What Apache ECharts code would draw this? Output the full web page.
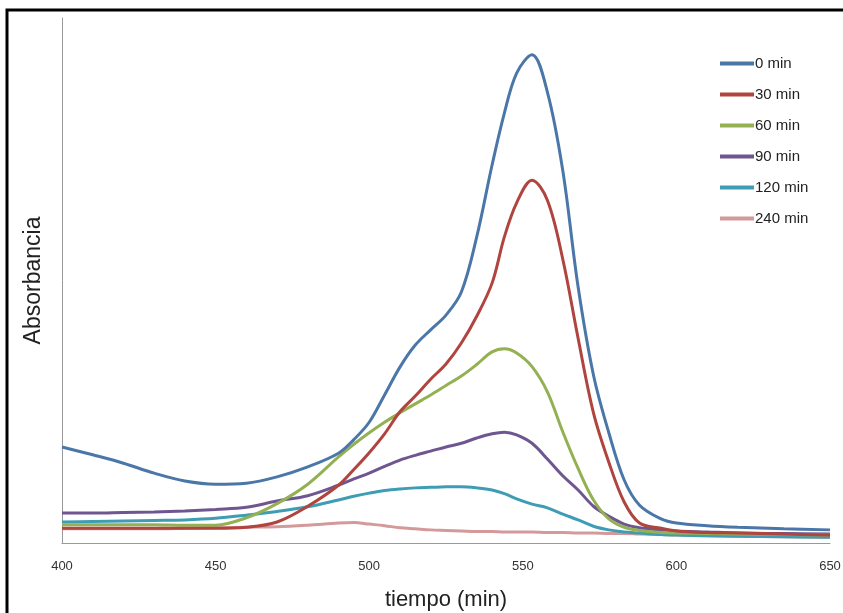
<!DOCTYPE html>
<html>
<head>
<meta charset="utf-8">
<script src="https://cdn.jsdelivr.net/npm/echarts@6/dist/echarts.min.js"></script>
<style>
  html, body { margin: 0; padding: 0; background: #fff; }
  #chart { width: 843px; height: 613px; }
</style>
</head>
<body>
<div id="chart"></div>
<script>
// longitudes de onda (eje x) y absorbancia
var wavelengths = [400, 410, 420, 430, 440, 450, 460, 470, 480, 490, 495, 500, 505, 510, 515, 520, 525, 530, 535, 540, 544, 548, 553, 558, 563, 568, 573, 578, 583, 588, 595, 600, 610, 620, 635, 650];
var names = ['0 min', '30 min', '60 min', '90 min', '120 min', '240 min'];
var abs0 = [.183, .168, .152, .133, .118, .112, .114, .126, .145, .171, .197, .230, .282, .335, .377, .406, .434, .478, .583, .720, .819, .895, .930, .859, .710, .488, .320, .210, .120, .072, .046, .038, .033, .030, .027, .025];
var abs30 = [.028, .028, .028, .028, .028, .028, .030, .040, .070, .110, .140, .172, .208, .250, .280, .312, .341, .381, .432, .495, .583, .648, .691, .653, .541, .390, .248, .154, .078, .038, .028, .023, .020, .019, .017, .015];
var abs60 = [.035, .035, .035, .035, .034, .034, .048, .075, .112, .164, .188, .210, .230, .248, .265, .282, .300, .318, .340, .364, .370, .362, .336, .288, .212, .142, .082, .046, .030, .024, .020, .019, .018, .017, .016, .015];
var abs90 = [.057, .057, .058, .059, .061, .064, .068, .080, .090, .110, .122, .133, .146, .158, .167, .175, .183, .190, .200, .208, .211, .206, .190, .160, .128, .101, .070, .051, .036, .029, .025, .023, .021, .019, .018, .017];
var abs120 = [.040, .041, .042, .043, .044, .047, .053, .060, .069, .082, .089, .095, .100, .103, .105, .106, .107, .107, .105, .101, .094, .084, .074, .067, .055, .044, .032, .025, .021, .019, .016, .015, .014, .013, .012, .011];
var abs240 = [.027, .027, .027, .027, .028, .029, .030, .031, .034, .038, .039, .036, .033, .029, .027, .025, .024, .023, .022, .022, .021, .021, .021, .020, .020, .019, .019, .018, .018, .017, .016, .015, .014, .013, .012, .011];
var xTicks = [400, 450, 500, 550, 600, 650];

var colors = ['#4A76A8', '#B0443F', '#93B152', '#6F5690', '#3E9DB4', '#D4999A'];
var allData = [abs0, abs30, abs60, abs90, abs120, abs240];

(function () {
    var myChart = echarts.init(document.getElementById('chart'), null, { renderer: 'canvas' });

    var series = allData.map(function (vals, i) {
        return {
            name: names[i],
            type: 'line',
            smooth: 0.35,
            symbol: 'none',
            lineStyle: { width: 3, color: colors[i] },
            itemStyle: { color: colors[i] },
            data: wavelengths.map(function (w, j) { return [w, vals[j]]; }),
            z: 10 - i
        };
    });

    var option = {
        animation: false,
        backgroundColor: '#fff',
        color: colors,
        graphic: [{
            type: 'rect',
            shape: { x: 7, y: 10, width: 900, height: 700 },
            style: { fill: 'none', stroke: '#000', lineWidth: 3 },
            silent: true
        }],
        grid: { left: 62, right: 13, top: 18, bottom: 70, outerBoundsMode: 'none' },
        legend: {
            orient: 'vertical',
            left: 715,
            top: 51,
            icon: 'rect',
            itemWidth: 34,
            itemHeight: 4,
            itemGap: 16,
            textStyle: {
                fontFamily: 'Liberation Sans, Arial, sans-serif',
                fontSize: 15,
                color: '#222',
                padding: [0, 0, 0, -4]
            },
            data: names
        },
        xAxis: {
            type: 'value',
            min: 400,
            max: 650,
            interval: 50,
            name: 'tiempo (min)',
            nameLocation: 'middle',
            nameGap: 46,
            nameTextStyle: {
                fontFamily: 'Liberation Sans, Arial, sans-serif',
                fontSize: 22,
                color: '#222'
            },
            axisLine: { lineStyle: { color: '#999', width: 1 } },
            axisTick: { show: false },
            splitLine: { show: false },
            axisLabel: {
                margin: 17,
                fontFamily: 'Liberation Sans, Arial, sans-serif',
                fontSize: 13,
                color: '#333',
                formatter: function (v) { return xTicks.indexOf(v) >= 0 ? String(v) : ''; }
            }
        },
        yAxis: {
            type: 'value',
            min: 0,
            max: 1,
            name: 'Absorbancia',
            nameLocation: 'middle',
            nameGap: 17,
            nameTextStyle: {
                fontFamily: 'Liberation Sans, Arial, sans-serif',
                fontSize: 23,
                color: '#222'
            },
            axisLine: { show: true, lineStyle: { color: '#999', width: 1 } },
            axisTick: { show: false },
            axisLabel: { show: false },
            splitLine: { show: false }
        },
        series: series
    };

    myChart.setOption(option);
    window.addEventListener('resize', function () {
        myChart.resize();
    });
})();
</script>
</body>
</html>
